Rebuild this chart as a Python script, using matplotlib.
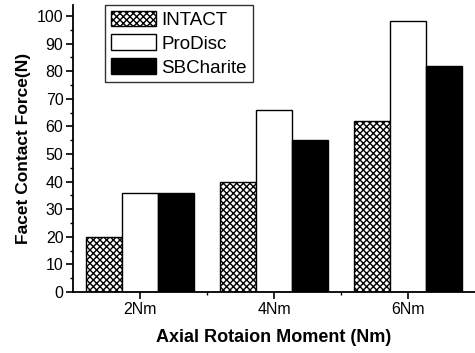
import matplotlib
matplotlib.use("Agg")
import matplotlib.pyplot as plt
import numpy as np

plt.rcParams['font.family'] = ['Liberation Sans', 'DejaVu Sans']
plt.rcParams['hatch.linewidth'] = 1.0

categories = ["2Nm", "4Nm", "6Nm"]
positions = [2, 4, 6]
intact = [20, 40, 62]
prodisc = [36, 66, 98]
sbcharite = [36, 55, 82]

fig = plt.figure(figsize=(4.75, 3.53), dpi=100)
ax = fig.add_axes([0.154, 0.173, 0.846, 0.813])

w = 0.54
x = np.array(positions, dtype=float)
ax.bar(x - w, intact, w, color='white', edgecolor='black', hatch='xxxxx', linewidth=1.0, label='INTACT')
ax.bar(x, prodisc, w, color='white', edgecolor='black', linewidth=1.0, label='ProDisc')
ax.bar(x + w, sbcharite, w, color='black', edgecolor='black', linewidth=1.0, label='SBCharite')

ax.set_xlim(1, 7)
ax.set_ylim(0, 104)
ax.set_xticks(positions)
ax.set_xticklabels(categories)
ax.set_xticks([3, 5], minor=True)
ax.set_yticks(range(0, 101, 10))
ax.set_yticks(range(5, 101, 10), minor=True)
for s in ['top', 'right']:
    ax.spines[s].set_visible(False)
for s in ['left', 'bottom']:
    ax.spines[s].set_linewidth(1.3)
ax.tick_params(axis='both', which='major', direction='out', length=5, width=1.2, labelsize=11.5, pad=2)
ax.tick_params(axis='both', which='minor', direction='out', length=2.5, width=1)

ax.set_xlabel('Axial Rotaion Moment (Nm)', fontsize=13, fontweight='bold', labelpad=9)
ax.set_ylabel('Facet Contact Force(N)', fontsize=12.5, fontweight='bold', labelpad=4)

leg = ax.legend(loc='upper left', bbox_to_anchor=(0.08, 1.0), fontsize=13.5, frameon=True,
                fancybox=False, edgecolor='black', handlelength=2.4, handleheight=0.9,
                borderpad=0.3, labelspacing=0.3, handletextpad=0.3, borderaxespad=0)
leg.get_frame().set_linewidth(1.0)

fig.savefig('out.png', dpi=100)
